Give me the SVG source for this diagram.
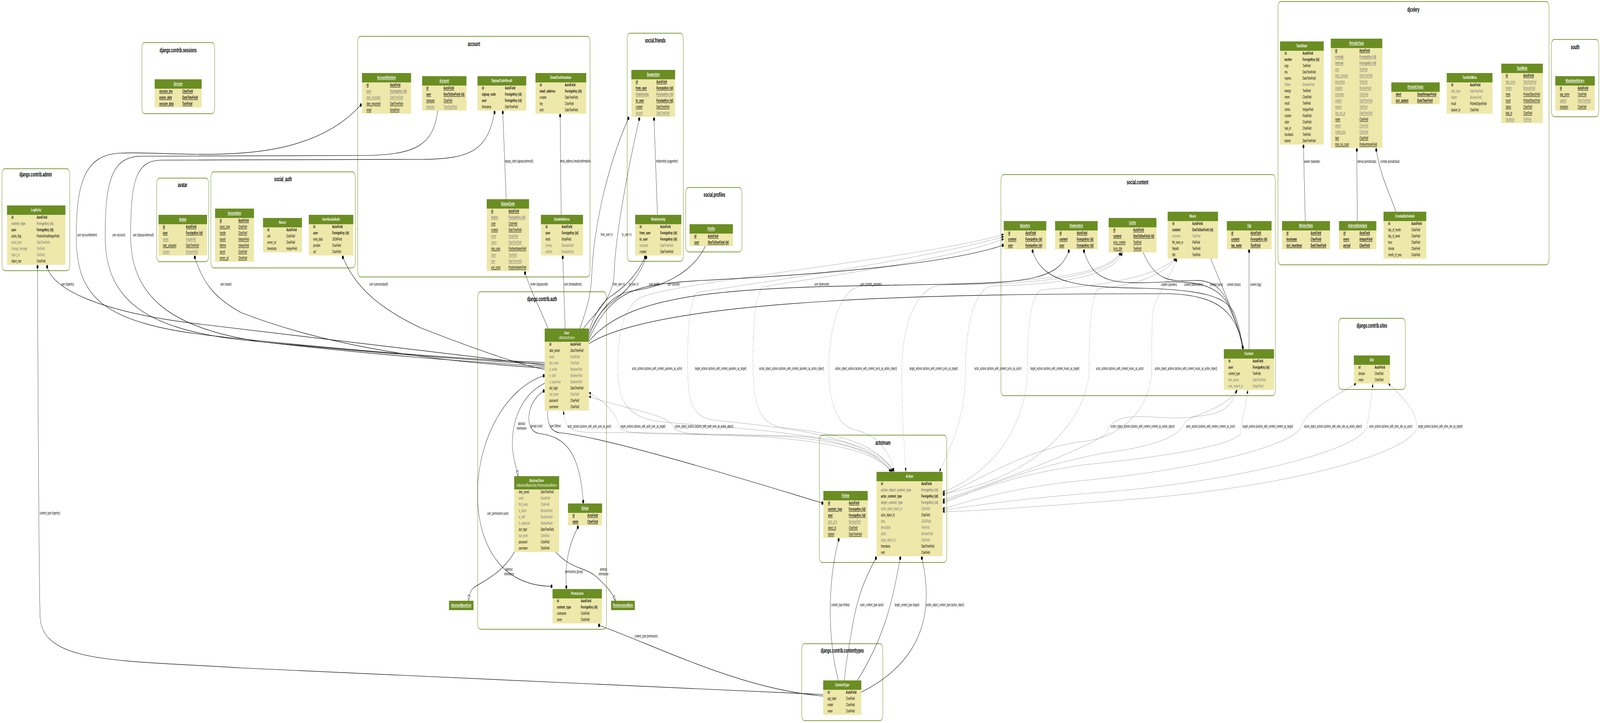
<svg xmlns="http://www.w3.org/2000/svg" width="7975" height="1851" viewBox="0 0 7975 1851" preserveAspectRatio="none">
<style>
svg{width:100%;height:100%}
text{font-family:"Liberation Sans",Arial,Helvetica,sans-serif;fill:#000}
.cl{fill:#fff;stroke:#7d9e3c;stroke-width:2}
.ct{font-size:16px;font-weight:bold;text-anchor:middle}
.hd{fill:#6b8e23}
.bd{fill:#eee8aa}
.ht{font-size:11px;font-weight:bold;fill:#fff;text-anchor:middle;letter-spacing:.4px}
.r{font-size:10px}
.b{font-weight:bold;letter-spacing:.7px}
.g{fill:#7b7b7b}
.i{font-style:italic}
.u{text-decoration:underline}
.e{fill:none;stroke:#000;stroke-width:1.2}
.d{stroke-dasharray:1.5 4}
.fk{marker-start:url(#dot)}
.m2m{marker-start:url(#dot);marker-end:url(#dot)}
.gen{marker-start:url(#arr);marker-end:url(#arr)}
.inh{marker-end:url(#emp)}
.lb{font-size:10px}
.lm{font-size:10px;text-anchor:middle}
</style>
<defs>
<marker id="dot" markerUnits="userSpaceOnUse" markerWidth="10" markerHeight="10" refX="5" refY="5" viewBox="0 0 10 10"><circle cx="5" cy="5" r="4.5"/></marker>
<marker id="arr" markerUnits="userSpaceOnUse" markerWidth="10" markerHeight="8" refX="10" refY="4" orient="auto-start-reverse" viewBox="0 0 10 8"><path d="M0,0L10,4L0,8z"/></marker>
<marker id="emp" markerUnits="userSpaceOnUse" markerWidth="16" markerHeight="12" refX="15" refY="6" orient="auto" viewBox="0 0 16 12"><path d="M1,1L15,6L1,11z" fill="#fff" stroke="#000" stroke-width="1.2"/></marker>
</defs>
<rect x="0" y="0" width="7975" height="1851" fill="#fff"/>

<g id="clusters">
<g id="c-admin"><rect class="cl" x="10" y="432" width="338" height="261" rx="14"/><text class="ct" x="178" y="452">django.contrib.admin</text></g>
<g id="c-sessions"><rect class="cl" x="707" y="109" width="363" height="182" rx="14"/><text class="ct" x="888" y="134">django.contrib.sessions</text></g>
<g id="c-avatar"><rect class="cl" x="781" y="456" width="259" height="214" rx="14"/><text class="ct" x="910" y="479">avatar</text></g>
<g id="c-social_auth"><rect class="cl" x="1051" y="440" width="720" height="246" rx="14"/><text class="ct" x="1411" y="464">social_auth</text></g>
<g id="c-account"><rect class="cl" x="1783" y="93" width="1158" height="616" rx="14"/><text class="ct" x="2362" y="118">account</text></g>
<g id="c-friends"><rect class="cl" x="3126" y="85" width="280" height="584" rx="14"/><text class="ct" x="3266" y="109">social.friends</text></g>
<g id="c-profiles"><rect class="cl" x="3418" y="480" width="280" height="165" rx="14"/><text class="ct" x="3561" y="504">social.profiles</text></g>
<g id="c-auth"><rect class="cl" x="2381" y="747" width="642" height="864" rx="14"/><text class="ct" x="2702" y="771">django.contrib.auth</text></g>
<g id="c-actstream"><rect class="cl" x="4084" y="1114" width="635" height="326" rx="14"/><text class="ct" x="4401" y="1139">actstream</text></g>
<g id="c-contenttypes"><rect class="cl" x="3996" y="1648" width="404" height="197" rx="14"/><text class="ct" x="4198" y="1671">django.contrib.contenttypes</text></g>
<g id="c-content"><rect class="cl" x="4989" y="447" width="1368" height="566" rx="14"/><text class="ct" x="5670" y="472">social.content</text></g>
<g id="c-sites"><rect class="cl" x="6672" y="815" width="333" height="182" rx="14"/><text class="ct" x="6838" y="839">django.contrib.sites</text></g>
<g id="c-djcelery"><rect class="cl" x="6370" y="4" width="1351" height="674" rx="14"/><text class="ct" x="7045" y="30">djcelery</text></g>
<g id="c-south"><rect class="cl" x="7733" y="101" width="236" height="198" rx="14"/><text class="ct" x="7851" y="126">south</text></g>
</g>

<g id="n-LogEntry"><rect class="hd" x="35" y="526" width="291" height="24"/><rect class="bd" x="35" y="550" width="291" height="128"/><text class="ht" x="180.5" y="541">LogEntry</text>
<text class="r b" y="560.5"><tspan x="57">id</tspan><tspan x="183">AutoField</tspan></text>
<text class="r b g" y="576.5"><tspan x="57">content_type</tspan><tspan x="183">ForeignKey (id)</tspan></text>
<text class="r b" y="592.5"><tspan x="57">user</tspan><tspan x="183">ForeignKey (id)</tspan></text>
<text class="r" y="608.5"><tspan x="57">action_flag</tspan><tspan x="183">PositiveSmallIntegerField</tspan></text>
<text class="r g" y="624.5"><tspan x="57">action_time</tspan><tspan x="183">DateTimeField</tspan></text>
<text class="r g" y="640.5"><tspan x="57">change_message</tspan><tspan x="183">TextField</tspan></text>
<text class="r g" y="656.5"><tspan x="57">object_id</tspan><tspan x="183">TextField</tspan></text>
<text class="r" y="672.5"><tspan x="57">object_repr</tspan><tspan x="183">CharField</tspan></text></g>

<g id="n-Session"><rect class="hd" x="771" y="203" width="234" height="24"/><rect class="bd" x="771" y="227" width="234" height="48"/><text class="ht i u" x="888" y="218">Session</text>
<text class="r b i u" y="237.5"><tspan x="794">session_key</tspan><tspan x="909">CharField</tspan></text>
<text class="r b i u" y="253.5"><tspan x="794">expire_date</tspan><tspan x="909">DateTimeField</tspan></text>
<text class="r b i u" y="269.5"><tspan x="794">session_data</tspan><tspan x="909">TextField</tspan></text></g>

<g id="n-Avatar"><rect class="hd" x="790" y="550" width="242" height="24"/><rect class="bd" x="790" y="574" width="242" height="80"/><text class="ht u" x="911" y="565">Avatar</text>
<text class="r b u" y="584.5"><tspan x="812">id</tspan><tspan x="927">AutoField</tspan></text>
<text class="r b u" y="600.5"><tspan x="812">user</tspan><tspan x="927">ForeignKey (id)</tspan></text>
<text class="r g u" y="616.5"><tspan x="812">avatar</tspan><tspan x="927">ImageField</tspan></text>
<text class="r u" y="632.5"><tspan x="812">date_uploaded</tspan><tspan x="927">DateTimeField</tspan></text>
<text class="r g u" y="648.5"><tspan x="812">primary</tspan><tspan x="927">BooleanField</tspan></text></g>

<g id="n-Association"><rect class="hd" x="1072" y="534" width="194" height="24"/><rect class="bd" x="1072" y="558" width="194" height="112"/><text class="ht u" x="1169" y="549">Association</text>
<text class="r b u" y="568.5"><tspan x="1095">id</tspan><tspan x="1188">AutoField</tspan></text>
<text class="r u" y="584.5"><tspan x="1095">assoc_type</tspan><tspan x="1188">CharField</tspan></text>
<text class="r u" y="600.5"><tspan x="1095">handle</tspan><tspan x="1188">CharField</tspan></text>
<text class="r u" y="616.5"><tspan x="1095">issued</tspan><tspan x="1188">IntegerField</tspan></text>
<text class="r u" y="632.5"><tspan x="1095">lifetime</tspan><tspan x="1188">IntegerField</tspan></text>
<text class="r u" y="648.5"><tspan x="1095">secret</tspan><tspan x="1188">CharField</tspan></text>
<text class="r u" y="664.5"><tspan x="1095">server_url</tspan><tspan x="1188">CharField</tspan></text></g>

<g id="n-Nonce"><rect class="hd" x="1311" y="558" width="194" height="24"/><rect class="bd" x="1311" y="582" width="194" height="64"/><text class="ht" x="1408" y="573">Nonce</text>
<text class="r b" y="592.5"><tspan x="1332">id</tspan><tspan x="1427">AutoField</tspan></text>
<text class="r" y="608.5"><tspan x="1332">salt</tspan><tspan x="1427">CharField</tspan></text>
<text class="r" y="624.5"><tspan x="1332">server_url</tspan><tspan x="1427">CharField</tspan></text>
<text class="r" y="640.5"><tspan x="1332">timestamp</tspan><tspan x="1427">IntegerField</tspan></text></g>

<g id="n-UserSocialAuth"><rect class="hd" x="1539" y="550" width="222" height="24"/><rect class="bd" x="1539" y="574" width="222" height="80"/><text class="ht" x="1650" y="565">UserSocialAuth</text>
<text class="r b" y="584.5"><tspan x="1561">id</tspan><tspan x="1656">AutoField</tspan></text>
<text class="r b" y="600.5"><tspan x="1561">user</tspan><tspan x="1656">ForeignKey (id)</tspan></text>
<text class="r" y="616.5"><tspan x="1561">extra_data</tspan><tspan x="1656">JSONField</tspan></text>
<text class="r" y="632.5"><tspan x="1561">provider</tspan><tspan x="1656">CharField</tspan></text>
<text class="r" y="648.5"><tspan x="1561">uid</tspan><tspan x="1656">CharField</tspan></text></g>

<g id="n-AccountDeletion"><rect class="hd" x="1804" y="187" width="245" height="24"/><rect class="bd" x="1804" y="211" width="245" height="80"/><text class="ht u" x="1926.5" y="202">AccountDeletion</text>
<text class="r b u" y="221.5"><tspan x="1827">id</tspan><tspan x="1944">AutoField</tspan></text>
<text class="r b g u" y="237.5"><tspan x="1827">user</tspan><tspan x="1944">ForeignKey (id)</tspan></text>
<text class="r g u" y="253.5"><tspan x="1827">date_expunged</tspan><tspan x="1944">DateTimeField</tspan></text>
<text class="r u" y="269.5"><tspan x="1827">date_requested</tspan><tspan x="1944">DateTimeField</tspan></text>
<text class="r u" y="285.5"><tspan x="1827">email</tspan><tspan x="1944">EmailField</tspan></text></g>

<g id="n-Account"><rect class="hd" x="2104" y="195" width="221" height="24"/><rect class="bd" x="2104" y="219" width="221" height="64"/><text class="ht u" x="2214.5" y="210">Account</text>
<text class="r b u" y="229.5"><tspan x="2125">id</tspan><tspan x="2211">AutoField</tspan></text>
<text class="r b u" y="245.5"><tspan x="2125">user</tspan><tspan x="2211">OneToOneField (id)</tspan></text>
<text class="r u" y="261.5"><tspan x="2125">language</tspan><tspan x="2211">CharField</tspan></text>
<text class="r g u" y="277.5"><tspan x="2125">timezone</tspan><tspan x="2211">TimeZoneField</tspan></text></g>

<g id="n-SignupCodeResult"><rect class="hd" x="2380" y="195" width="243" height="24"/><rect class="bd" x="2380" y="219" width="243" height="64"/><text class="ht" x="2501.5" y="210">SignupCodeResult</text>
<text class="r b" y="229.5"><tspan x="2402">id</tspan><tspan x="2517">AutoField</tspan></text>
<text class="r b" y="245.5"><tspan x="2402">signup_code</tspan><tspan x="2517">ForeignKey (id)</tspan></text>
<text class="r b" y="261.5"><tspan x="2402">user</tspan><tspan x="2517">ForeignKey (id)</tspan></text>
<text class="r" y="277.5"><tspan x="2402">timestamp</tspan><tspan x="2517">DateTimeField</tspan></text></g>

<g id="n-EmailConfirmation"><rect class="hd" x="2669" y="187" width="253" height="24"/><rect class="bd" x="2669" y="211" width="253" height="80"/><text class="ht" x="2795.5" y="202">EmailConfirmation</text>
<text class="r b" y="221.5"><tspan x="2690">id</tspan><tspan x="2816">AutoField</tspan></text>
<text class="r b" y="237.5"><tspan x="2690">email_address</tspan><tspan x="2816">ForeignKey (id)</tspan></text>
<text class="r" y="253.5"><tspan x="2690">created</tspan><tspan x="2816">DateTimeField</tspan></text>
<text class="r" y="269.5"><tspan x="2690">key</tspan><tspan x="2816">CharField</tspan></text>
<text class="r" y="285.5"><tspan x="2690">sent</tspan><tspan x="2816">DateTimeField</tspan></text></g>

<g id="n-SignupCode"><rect class="hd" x="2426" y="510" width="211" height="24"/><rect class="bd" x="2426" y="534" width="211" height="160"/><text class="ht u" x="2531.5" y="525">SignupCode</text>
<text class="r b u" y="544.5"><tspan x="2448">id</tspan><tspan x="2535">AutoField</tspan></text>
<text class="r b g u" y="560.5"><tspan x="2448">inviter</tspan><tspan x="2535">ForeignKey (id)</tspan></text>
<text class="r u" y="576.5"><tspan x="2448">code</tspan><tspan x="2535">CharField</tspan></text>
<text class="r u" y="592.5"><tspan x="2448">created</tspan><tspan x="2535">DateTimeField</tspan></text>
<text class="r g u" y="608.5"><tspan x="2448">email</tspan><tspan x="2535">EmailField</tspan></text>
<text class="r g u" y="624.5"><tspan x="2448">expiry</tspan><tspan x="2535">DateTimeField</tspan></text>
<text class="r u" y="640.5"><tspan x="2448">max_uses</tspan><tspan x="2535">PositiveIntegerField</tspan></text>
<text class="r g u" y="656.5"><tspan x="2448">notes</tspan><tspan x="2535">TextField</tspan></text>
<text class="r g u" y="672.5"><tspan x="2448">sent</tspan><tspan x="2535">DateTimeField</tspan></text>
<text class="r u" y="688.5"><tspan x="2448">use_count</tspan><tspan x="2535">PositiveIntegerField</tspan></text></g>

<g id="n-EmailAddress"><rect class="hd" x="2696" y="550" width="210" height="24"/><rect class="bd" x="2696" y="574" width="210" height="80"/><text class="ht" x="2801" y="565">EmailAddress</text>
<text class="r b" y="584.5"><tspan x="2719">id</tspan><tspan x="2800">AutoField</tspan></text>
<text class="r b" y="600.5"><tspan x="2719">user</tspan><tspan x="2800">ForeignKey (id)</tspan></text>
<text class="r" y="616.5"><tspan x="2719">email</tspan><tspan x="2800">EmailField</tspan></text>
<text class="r g" y="632.5"><tspan x="2719">primary</tspan><tspan x="2800">BooleanField</tspan></text>
<text class="r g" y="648.5"><tspan x="2719">verified</tspan><tspan x="2800">BooleanField</tspan></text></g>

<g id="n-Suggestion"><rect class="hd" x="3147" y="179" width="218" height="24"/><rect class="bd" x="3147" y="203" width="218" height="96"/><text class="ht u" x="3256" y="194">Suggestion</text>
<text class="r b u" y="213.5"><tspan x="3169">id</tspan><tspan x="3272">AutoField</tspan></text>
<text class="r b u" y="229.5"><tspan x="3169">from_user</tspan><tspan x="3272">ForeignKey (id)</tspan></text>
<text class="r b g u" y="245.5"><tspan x="3169">relationship</tspan><tspan x="3272">ForeignKey (id)</tspan></text>
<text class="r b u" y="261.5"><tspan x="3169">to_user</tspan><tspan x="3272">ForeignKey (id)</tspan></text>
<text class="r u" y="277.5"><tspan x="3169">created</tspan><tspan x="3272">DateTimeField</tspan></text>
<text class="r g u" y="293.5"><tspan x="3169">ignored</tspan><tspan x="3272">DateTimeField</tspan></text></g>

<g id="n-Relationship"><rect class="hd" x="3166" y="550" width="230" height="24"/><rect class="bd" x="3166" y="574" width="230" height="80"/><text class="ht" x="3281" y="565">Relationship</text>
<text class="r b" y="584.5"><tspan x="3188">id</tspan><tspan x="3291">AutoField</tspan></text>
<text class="r b" y="600.5"><tspan x="3188">from_user</tspan><tspan x="3291">ForeignKey (id)</tspan></text>
<text class="r b" y="616.5"><tspan x="3188">to_user</tspan><tspan x="3291">ForeignKey (id)</tspan></text>
<text class="r g" y="632.5"><tspan x="3188">accepted</tspan><tspan x="3291">DateTimeField</tspan></text>
<text class="r" y="648.5"><tspan x="3188">created</tspan><tspan x="3291">DateTimeField</tspan></text></g>

<g id="n-Profile"><rect class="hd" x="3437" y="574" width="216" height="24"/><rect class="bd" x="3437" y="598" width="216" height="32"/><text class="ht i u" x="3545" y="589">Profile</text>
<text class="r b i u" y="608.5"><tspan x="3461">id</tspan><tspan x="3528">AutoField</tspan></text>
<text class="r b i u" y="624.5"><tspan x="3461">user</tspan><tspan x="3528">OneToOneField (id)</tspan></text></g>

<g id="n-User"><rect class="hd" x="2715" y="841" width="220" height="34"/><rect class="bd" x="2715" y="875" width="220" height="176"/><text class="ht" x="2825" y="856">User</text><text class="ht i" x="2825" y="868" style="font-weight:normal">&lt;AbstractUser&gt;</text>
<text class="r b" y="885.5"><tspan x="2738">id</tspan><tspan x="2843">AutoField</tspan></text>
<text class="r i" y="901.5"><tspan x="2738">date_joined</tspan><tspan x="2843">DateTimeField</tspan></text>
<text class="r i g" y="917.5"><tspan x="2738">email</tspan><tspan x="2843">EmailField</tspan></text>
<text class="r i g" y="933.5"><tspan x="2738">first_name</tspan><tspan x="2843">CharField</tspan></text>
<text class="r i g" y="949.5"><tspan x="2738">is_active</tspan><tspan x="2843">BooleanField</tspan></text>
<text class="r i g" y="965.5"><tspan x="2738">is_staff</tspan><tspan x="2843">BooleanField</tspan></text>
<text class="r i g" y="981.5"><tspan x="2738">is_superuser</tspan><tspan x="2843">BooleanField</tspan></text>
<text class="r i" y="997.5"><tspan x="2738">last_login</tspan><tspan x="2843">DateTimeField</tspan></text>
<text class="r i g" y="1013.5"><tspan x="2738">last_name</tspan><tspan x="2843">CharField</tspan></text>
<text class="r i" y="1029.5"><tspan x="2738">password</tspan><tspan x="2843">CharField</tspan></text>
<text class="r i" y="1045.5"><tspan x="2738">username</tspan><tspan x="2843">CharField</tspan></text></g>

<g id="n-AbstractUser"><rect class="hd" x="2563" y="1219" width="224" height="34"/><rect class="bd" x="2563" y="1253" width="224" height="160"/><text class="ht" x="2675" y="1234">AbstractUser</text><text class="ht i" x="2675" y="1246" style="font-weight:normal">&lt;AbstractBaseUser,PermissionsMixin&gt;</text>
<text class="r" y="1263.5"><tspan x="2585">date_joined</tspan><tspan x="2695">DateTimeField</tspan></text>
<text class="r g" y="1279.5"><tspan x="2585">email</tspan><tspan x="2695">EmailField</tspan></text>
<text class="r g" y="1295.5"><tspan x="2585">first_name</tspan><tspan x="2695">CharField</tspan></text>
<text class="r g" y="1311.5"><tspan x="2585">is_active</tspan><tspan x="2695">BooleanField</tspan></text>
<text class="r g" y="1327.5"><tspan x="2585">is_staff</tspan><tspan x="2695">BooleanField</tspan></text>
<text class="r g i" y="1343.5"><tspan x="2585">is_superuser</tspan><tspan x="2695">BooleanField</tspan></text>
<text class="r i" y="1359.5"><tspan x="2585">last_login</tspan><tspan x="2695">DateTimeField</tspan></text>
<text class="r g" y="1375.5"><tspan x="2585">last_name</tspan><tspan x="2695">CharField</tspan></text>
<text class="r i" y="1391.5"><tspan x="2585">password</tspan><tspan x="2695">CharField</tspan></text>
<text class="r" y="1407.5"><tspan x="2585">username</tspan><tspan x="2695">CharField</tspan></text></g>

<g id="n-Group"><rect class="hd" x="2831" y="1289" width="170" height="24"/><rect class="bd" x="2831" y="1313" width="170" height="32"/><text class="ht i u" x="2916" y="1304">Group</text>
<text class="r b i u" y="1323.5"><tspan x="2854">id</tspan><tspan x="2928">AutoField</tspan></text>
<text class="r b i u" y="1339.5"><tspan x="2854">name</tspan><tspan x="2928">CharField</tspan></text></g>

<g id="n-Permission"><rect class="hd" x="2754" y="1508" width="246" height="24"/><rect class="bd" x="2754" y="1532" width="246" height="64"/><text class="ht" x="2877" y="1523">Permission</text>
<text class="r b" y="1542.5"><tspan x="2776">id</tspan><tspan x="2895">AutoField</tspan></text>
<text class="r b" y="1558.5"><tspan x="2776">content_type</tspan><tspan x="2895">ForeignKey (id)</tspan></text>
<text class="r" y="1574.5"><tspan x="2776">codename</tspan><tspan x="2895">CharField</tspan></text>
<text class="r" y="1590.5"><tspan x="2776">name</tspan><tspan x="2895">CharField</tspan></text></g>

<g id="n-AbstractBaseUser"><rect class="hd" x="2238" y="1538" width="122" height="24"/><text class="ht i u" x="2299" y="1553">AbstractBaseUser</text></g>
<g id="n-PermissionsMixin"><rect class="hd" x="3046" y="1538" width="118" height="24"/><text class="ht i u" x="3105" y="1553">PermissionsMixin</text></g>

<g id="n-Upvoters"><rect class="hd" x="5003" y="566" width="212" height="24"/><rect class="bd" x="5003" y="590" width="212" height="48"/><text class="ht i u" x="5109" y="581">Upvoters</text>
<text class="r b i u" y="600.5"><tspan x="5025">id</tspan><tspan x="5111">AutoField</tspan></text>
<text class="r b i u" y="616.5"><tspan x="5025">content</tspan><tspan x="5111">ForeignKey (id)</tspan></text>
<text class="r b i u" y="632.5"><tspan x="5025">user</tspan><tspan x="5111">ForeignKey (id)</tspan></text></g>

<g id="n-Downvoters"><rect class="hd" x="5259" y="566" width="212" height="24"/><rect class="bd" x="5259" y="590" width="212" height="48"/><text class="ht i u" x="5365" y="581">Downvoters</text>
<text class="r b i u" y="600.5"><tspan x="5281">id</tspan><tspan x="5367">AutoField</tspan></text>
<text class="r b i u" y="616.5"><tspan x="5281">content</tspan><tspan x="5367">ForeignKey (id)</tspan></text>
<text class="r b i u" y="632.5"><tspan x="5281">user</tspan><tspan x="5367">ForeignKey (id)</tspan></text></g>

<g id="n-Lyrics"><rect class="hd" x="5526" y="558" width="238" height="24"/><rect class="bd" x="5526" y="582" width="238" height="64"/><text class="ht u" x="5645" y="573">Lyrics</text>
<text class="r b u" y="592.5"><tspan x="5549">id</tspan><tspan x="5649">AutoField</tspan></text>
<text class="r b u" y="608.5"><tspan x="5549">content</tspan><tspan x="5649">OneToOneField (id)</tspan></text>
<text class="r u" y="624.5"><tspan x="5549">lyrics_content</tspan><tspan x="5649">TextField</tspan></text>
<text class="r u" y="640.5"><tspan x="5549">lyrics_title</tspan><tspan x="5649">TextField</tspan></text></g>

<g id="n-Music"><rect class="hd" x="5820" y="542" width="251" height="24"/><rect class="bd" x="5820" y="566" width="251" height="96"/><text class="ht" x="5945.5" y="557">Music</text>
<text class="r b" y="576.5"><tspan x="5843">id</tspan><tspan x="5943">AutoField</tspan></text>
<text class="r b" y="592.5"><tspan x="5843">content</tspan><tspan x="5943">OneToOneField (id)</tspan></text>
<text class="r g" y="608.5"><tspan x="5843">comment</tspan><tspan x="5943">TextField</tspan></text>
<text class="r" y="624.5"><tspan x="5843">file_store_to</tspan><tspan x="5943">FileField</tspan></text>
<text class="r" y="640.5"><tspan x="5843">filepath</tspan><tspan x="5943">TextField</tspan></text>
<text class="r" y="656.5"><tspan x="5843">title</tspan><tspan x="5943">TextField</tspan></text></g>

<g id="n-Tag"><rect class="hd" x="6115" y="566" width="223" height="24"/><rect class="bd" x="6115" y="590" width="223" height="48"/><text class="ht i u" x="6226.5" y="581">Tag</text>
<text class="r b i u" y="600.5"><tspan x="6137">id</tspan><tspan x="6233">AutoField</tspan></text>
<text class="r b i u" y="616.5"><tspan x="6137">content</tspan><tspan x="6233">ForeignKey (id)</tspan></text>
<text class="r b i u" y="632.5"><tspan x="6137">tag_name</tspan><tspan x="6233">TextField</tspan></text></g>

<g id="n-Content"><rect class="hd" x="6100" y="894" width="250" height="24"/><rect class="bd" x="6100" y="918" width="250" height="80"/><text class="ht" x="6225" y="909">Content</text>
<text class="r b" y="928.5"><tspan x="6123">id</tspan><tspan x="6244">AutoField</tspan></text>
<text class="r b" y="944.5"><tspan x="6123">user</tspan><tspan x="6244">ForeignKey (id)</tspan></text>
<text class="r" y="960.5"><tspan x="6123">content_type</tspan><tspan x="6244">TextField</tspan></text>
<text class="r g" y="976.5"><tspan x="6123">time_stamp</tspan><tspan x="6244">DateTimeField</tspan></text>
<text class="r g" y="992.5"><tspan x="6123">user_content_id</tspan><tspan x="6244">IntegerField</tspan></text></g>

<g id="n-Follow"><rect class="hd" x="4104" y="1257" width="221" height="24"/><rect class="bd" x="4104" y="1281" width="221" height="96"/><text class="ht u" x="4214.5" y="1272">Follow</text>
<text class="r b u" y="1291.5"><tspan x="4127">id</tspan><tspan x="4231">AutoField</tspan></text>
<text class="r b u" y="1307.5"><tspan x="4127">content_type</tspan><tspan x="4231">ForeignKey (id)</tspan></text>
<text class="r b u" y="1323.5"><tspan x="4127">user</tspan><tspan x="4231">ForeignKey (id)</tspan></text>
<text class="r g u" y="1339.5"><tspan x="4127">actor_only</tspan><tspan x="4231">BooleanField</tspan></text>
<text class="r u" y="1355.5"><tspan x="4127">object_id</tspan><tspan x="4231">CharField</tspan></text>
<text class="r u" y="1371.5"><tspan x="4127">started</tspan><tspan x="4231">DateTimeField</tspan></text></g>

<g id="n-Action"><rect class="hd" x="4369" y="1208" width="329" height="24"/><rect class="bd" x="4369" y="1232" width="329" height="192"/><text class="ht" x="4533.5" y="1223">Action</text>
<text class="r b" y="1242.5"><tspan x="4391">id</tspan><tspan x="4592">AutoField</tspan></text>
<text class="r b g" y="1258.5"><tspan x="4391">action_object_content_type</tspan><tspan x="4592">ForeignKey (id)</tspan></text>
<text class="r b" y="1274.5"><tspan x="4391">actor_content_type</tspan><tspan x="4592">ForeignKey (id)</tspan></text>
<text class="r b g" y="1290.5"><tspan x="4391">target_content_type</tspan><tspan x="4592">ForeignKey (id)</tspan></text>
<text class="r g" y="1306.5"><tspan x="4391">action_object_object_id</tspan><tspan x="4592">CharField</tspan></text>
<text class="r" y="1322.5"><tspan x="4391">actor_object_id</tspan><tspan x="4592">CharField</tspan></text>
<text class="r g" y="1338.5"><tspan x="4391">data</tspan><tspan x="4592">JSONField</tspan></text>
<text class="r g" y="1354.5"><tspan x="4391">description</tspan><tspan x="4592">TextField</tspan></text>
<text class="r g" y="1370.5"><tspan x="4391">public</tspan><tspan x="4592">BooleanField</tspan></text>
<text class="r g" y="1386.5"><tspan x="4391">target_object_id</tspan><tspan x="4592">CharField</tspan></text>
<text class="r" y="1402.5"><tspan x="4391">timestamp</tspan><tspan x="4592">DateTimeField</tspan></text>
<text class="r" y="1418.5"><tspan x="4391">verb</tspan><tspan x="4592">CharField</tspan></text></g>

<g id="n-ContentType"><rect class="hd" x="4103" y="1742" width="190" height="24"/><rect class="bd" x="4103" y="1766" width="190" height="64"/><text class="ht" x="4198" y="1757">ContentType</text>
<text class="r b" y="1776.5"><tspan x="4125">id</tspan><tspan x="4217">AutoField</tspan></text>
<text class="r" y="1792.5"><tspan x="4125">app_label</tspan><tspan x="4217">CharField</tspan></text>
<text class="r" y="1808.5"><tspan x="4125">model</tspan><tspan x="4217">CharField</tspan></text>
<text class="r" y="1824.5"><tspan x="4125">name</tspan><tspan x="4217">CharField</tspan></text></g>

<g id="n-Site"><rect class="hd" x="6748" y="910" width="180" height="24"/><rect class="bd" x="6748" y="934" width="180" height="48"/><text class="ht" x="6838" y="925">Site</text>
<text class="r b" y="944.5"><tspan x="6771">id</tspan><tspan x="6852">AutoField</tspan></text>
<text class="r" y="960.5"><tspan x="6771">domain</tspan><tspan x="6852">CharField</tspan></text>
<text class="r" y="976.5"><tspan x="6771">name</tspan><tspan x="6852">CharField</tspan></text></g>

<g id="n-TaskState"><rect class="hd" x="6380" y="106" width="218" height="24"/><rect class="bd" x="6380" y="130" width="218" height="240"/><text class="ht" x="6489" y="121">TaskState</text>
<text class="r b" y="140.5"><tspan x="6403">id</tspan><tspan x="6493">AutoField</tspan></text>
<text class="r b" y="156.5"><tspan x="6403">worker</tspan><tspan x="6493">ForeignKey (id)</tspan></text>
<text class="r" y="172.5"><tspan x="6403">args</tspan><tspan x="6493">TextField</tspan></text>
<text class="r" y="188.5"><tspan x="6403">eta</tspan><tspan x="6493">DateTimeField</tspan></text>
<text class="r" y="204.5"><tspan x="6403">expires</tspan><tspan x="6493">DateTimeField</tspan></text>
<text class="r g" y="220.5"><tspan x="6403">hidden</tspan><tspan x="6493">BooleanField</tspan></text>
<text class="r" y="236.5"><tspan x="6403">kwargs</tspan><tspan x="6493">TextField</tspan></text>
<text class="r" y="252.5"><tspan x="6403">name</tspan><tspan x="6493">CharField</tspan></text>
<text class="r" y="268.5"><tspan x="6403">result</tspan><tspan x="6493">TextField</tspan></text>
<text class="r" y="284.5"><tspan x="6403">retries</tspan><tspan x="6493">IntegerField</tspan></text>
<text class="r" y="300.5"><tspan x="6403">runtime</tspan><tspan x="6493">FloatField</tspan></text>
<text class="r" y="316.5"><tspan x="6403">state</tspan><tspan x="6493">CharField</tspan></text>
<text class="r" y="332.5"><tspan x="6403">task_id</tspan><tspan x="6493">CharField</tspan></text>
<text class="r" y="348.5"><tspan x="6403">traceback</tspan><tspan x="6493">TextField</tspan></text>
<text class="r" y="364.5"><tspan x="6403">tstamp</tspan><tspan x="6493">DateTimeField</tspan></text></g>

<g id="n-PeriodicTask"><rect class="hd" x="6633" y="99" width="257" height="24"/><rect class="bd" x="6633" y="123" width="257" height="256"/><text class="ht u" x="6761.5" y="114">PeriodicTask</text>
<text class="r b u" y="133.5"><tspan x="6655">id</tspan><tspan x="6776">AutoField</tspan></text>
<text class="r b g u" y="149.5"><tspan x="6655">crontab</tspan><tspan x="6776">ForeignKey (id)</tspan></text>
<text class="r b g u" y="165.5"><tspan x="6655">interval</tspan><tspan x="6776">ForeignKey (id)</tspan></text>
<text class="r g u" y="181.5"><tspan x="6655">args</tspan><tspan x="6776">TextField</tspan></text>
<text class="r g u" y="197.5"><tspan x="6655">date_changed</tspan><tspan x="6776">DateTimeField</tspan></text>
<text class="r g u" y="213.5"><tspan x="6655">description</tspan><tspan x="6776">TextField</tspan></text>
<text class="r g u" y="229.5"><tspan x="6655">enabled</tspan><tspan x="6776">BooleanField</tspan></text>
<text class="r g u" y="245.5"><tspan x="6655">exchange</tspan><tspan x="6776">CharField</tspan></text>
<text class="r g u" y="261.5"><tspan x="6655">expires</tspan><tspan x="6776">DateTimeField</tspan></text>
<text class="r g u" y="277.5"><tspan x="6655">kwargs</tspan><tspan x="6776">TextField</tspan></text>
<text class="r g u" y="293.5"><tspan x="6655">last_run_at</tspan><tspan x="6776">DateTimeField</tspan></text>
<text class="r u" y="309.5"><tspan x="6655">name</tspan><tspan x="6776">CharField</tspan></text>
<text class="r g u" y="325.5"><tspan x="6655">queue</tspan><tspan x="6776">CharField</tspan></text>
<text class="r g u" y="341.5"><tspan x="6655">routing_key</tspan><tspan x="6776">CharField</tspan></text>
<text class="r u" y="357.5"><tspan x="6655">task</tspan><tspan x="6776">CharField</tspan></text>
<text class="r u" y="373.5"><tspan x="6655">total_run_count</tspan><tspan x="6776">PositiveIntegerField</tspan></text></g>

<g id="n-PeriodicTasks"><rect class="hd" x="6935" y="211" width="241" height="24"/><rect class="bd" x="6935" y="235" width="241" height="32"/><text class="ht i u" x="7055.5" y="226">PeriodicTasks</text>
<text class="r b i u" y="245.5"><tspan x="6957">ident</tspan><tspan x="7064">SmallIntegerField</tspan></text>
<text class="r b i u" y="261.5"><tspan x="6957">last_update</tspan><tspan x="7064">DateTimeField</tspan></text></g>

<g id="n-TaskSetMeta"><rect class="hd" x="7211" y="187" width="228" height="24"/><rect class="bd" x="7211" y="211" width="228" height="80"/><text class="ht" x="7325" y="202">TaskSetMeta</text>
<text class="r b" y="221.5"><tspan x="7233">id</tspan><tspan x="7327">AutoField</tspan></text>
<text class="r g" y="237.5"><tspan x="7233">date_done</tspan><tspan x="7327">DateTimeField</tspan></text>
<text class="r g" y="253.5"><tspan x="7233">hidden</tspan><tspan x="7327">BooleanField</tspan></text>
<text class="r" y="269.5"><tspan x="7233">result</tspan><tspan x="7327">PickledObjectField</tspan></text>
<text class="r" y="285.5"><tspan x="7233">taskset_id</tspan><tspan x="7327">CharField</tspan></text></g>

<g id="n-TaskMeta"><rect class="hd" x="7483" y="163" width="207" height="24"/><rect class="bd" x="7483" y="187" width="207" height="128"/><text class="ht u" x="7586.5" y="178">TaskMeta</text>
<text class="r b u" y="197.5"><tspan x="7505">id</tspan><tspan x="7593">AutoField</tspan></text>
<text class="r g u" y="213.5"><tspan x="7505">date_done</tspan><tspan x="7593">DateTimeField</tspan></text>
<text class="r g u" y="229.5"><tspan x="7505">hidden</tspan><tspan x="7593">BooleanField</tspan></text>
<text class="r u" y="245.5"><tspan x="7505">meta</tspan><tspan x="7593">PickledObjectField</tspan></text>
<text class="r u" y="261.5"><tspan x="7505">result</tspan><tspan x="7593">PickledObjectField</tspan></text>
<text class="r u" y="277.5"><tspan x="7505">status</tspan><tspan x="7593">CharField</tspan></text>
<text class="r u" y="293.5"><tspan x="7505">task_id</tspan><tspan x="7593">CharField</tspan></text>
<text class="r g u" y="309.5"><tspan x="7505">traceback</tspan><tspan x="7593">TextField</tspan></text></g>

<g id="n-MigrationHistory"><rect class="hd" x="7752" y="195" width="197" height="24"/><rect class="bd" x="7752" y="219" width="197" height="64"/><text class="ht u" x="7850.5" y="210">MigrationHistory</text>
<text class="r b u" y="229.5"><tspan x="7775">id</tspan><tspan x="7864">AutoField</tspan></text>
<text class="r u" y="245.5"><tspan x="7775">app_name</tspan><tspan x="7864">CharField</tspan></text>
<text class="r g u" y="261.5"><tspan x="7775">applied</tspan><tspan x="7864">DateTimeField</tspan></text>
<text class="r u" y="277.5"><tspan x="7775">migration</tspan><tspan x="7864">CharField</tspan></text></g>

<g id="n-WorkerState"><rect class="hd" x="6390" y="566" width="239" height="24"/><rect class="bd" x="6390" y="590" width="239" height="48"/><text class="ht i u" x="6509.5" y="581">WorkerState</text>
<text class="r b i u" y="600.5"><tspan x="6412">id</tspan><tspan x="6533">AutoField</tspan></text>
<text class="r b i u" y="616.5"><tspan x="6412">hostname</tspan><tspan x="6533">CharField</tspan></text>
<text class="r b i u" y="632.5"><tspan x="6412">last_heartbeat</tspan><tspan x="6533">DateTimeField</tspan></text></g>

<g id="n-IntervalSchedule"><rect class="hd" x="6674" y="566" width="186" height="24"/><rect class="bd" x="6674" y="590" width="186" height="48"/><text class="ht i u" x="6767" y="581">IntervalSchedule</text>
<text class="r b i u" y="600.5"><tspan x="6696">id</tspan><tspan x="6776">AutoField</tspan></text>
<text class="r b i u" y="616.5"><tspan x="6696">every</tspan><tspan x="6776">IntegerField</tspan></text>
<text class="r b i u" y="632.5"><tspan x="6696">period</tspan><tspan x="6776">CharField</tspan></text></g>

<g id="n-CrontabSchedule"><rect class="hd" x="6896" y="542" width="213" height="24"/><rect class="bd" x="6896" y="566" width="213" height="96"/><text class="ht" x="7002.5" y="557">CrontabSchedule</text>
<text class="r b" y="576.5"><tspan x="6919">id</tspan><tspan x="7035">AutoField</tspan></text>
<text class="r" y="592.5"><tspan x="6919">day_of_month</tspan><tspan x="7035">CharField</tspan></text>
<text class="r" y="608.5"><tspan x="6919">day_of_week</tspan><tspan x="7035">CharField</tspan></text>
<text class="r" y="624.5"><tspan x="6919">hour</tspan><tspan x="7035">CharField</tspan></text>
<text class="r" y="640.5"><tspan x="6919">minute</tspan><tspan x="7035">CharField</tspan></text>
<text class="r" y="656.5"><tspan x="6919">month_of_year</tspan><tspan x="7035">CharField</tspan></text></g>

<g id="connectors">
<path class="e fk" d="M187,683 C190,1100 195,1500 200,1580 C210,1700 600,1690 1200,1710 C2600,1750 3600,1772 4103,1778"/>
<path class="e fk" d="M235,683 C260,740 500,800 1000,830 C1700,870 2300,915 2715,935"/>
<path class="e fk" d="M1798,269 C1500,440 900,385 600,392 C420,396 382,470 380,602 C380,760 500,830 1100,862 C1700,895 2300,920 2715,928"/>
<path class="e" d="M2182,283 C2160,370 2080,398 1800,398 L700,400 C560,402 525,460 524,602 C523,760 700,840 1200,870 C1800,900 2300,922 2715,932"/>
<path class="e fk" d="M2465,288 C2430,380 2360,408 2100,408 L800,410 C680,412 652,460 651,602 C650,760 850,840 1300,875 C1900,910 2300,925 2715,938"/>
<path class="e fk" d="M971,659 C1010,720 1060,760 1200,800 C1700,900 2300,930 2715,942"/>
<path class="e fk" d="M1709,659 C1760,720 1850,780 2100,840 C2400,900 2600,935 2715,946"/>
<path class="e fk" d="M2617,699 C2650,750 2700,800 2732,841"/>
<path class="e fk" d="M2805,659 L2817,841"/>
<path class="e fk" d="M3132,303 C3000,460 2955,620 2950,700 C2945,770 2910,810 2890,841"/>
<path class="e fk" d="M3186,305 C3110,480 3065,620 3060,710 C3050,770 2950,810 2908,841"/>
<path class="e fk" d="M3260,305 L3277,550"/>
<path class="e fk" d="M3215,659 C3170,710 3100,740 3040,760 C2990,780 2960,810 2935,848"/>
<path class="e fk" d="M3221,659 C3180,715 3120,745 3060,770 C3000,790 2965,820 2935,855"/>
<path class="e" d="M3516,630 C3450,700 3300,735 3150,745 C3050,752 2980,800 2935,862"/>
<path class="e fk" d="M4998,628 C4700,680 4000,705 3500,718 C3150,728 3050,745 2935,868"/>
<path class="e fk" d="M5327,643 C5280,710 5150,725 4700,728 C3700,735 3150,740 2935,874"/>
<path class="e fk" d="M6194,889 C6160,790 6050,752 5800,752 C4800,752 3300,760 2935,880"/>
<path class="e fk" d="M2506,288 L2523,510"/>
<path class="e fk" d="M2792,296 L2797,550"/>
<path class="e fk" d="M4099,1288 C3700,1225 3000,1117 2790,1108 C2740,1105 2728,1080 2728,1051"/>
<path class="e fk" d="M4180,1382 C4130,1480 4120,1620 4178,1742"/>
<path class="e fk" d="M4366,1429 C4300,1490 4270,1540 4250,1600 C4230,1660 4215,1700 4209,1742"/>
<path class="e fk" d="M4487,1429 C4450,1530 4420,1620 4274,1742"/>
<path class="e fk" d="M4595,1429 C4640,1530 4650,1680 4293,1772"/>
<path class="e fk" d="M2986,1601 C3300,1660 3700,1765 4103,1782"/>
<path class="e fk" d="M6497,375 L6506,566"/>
<path class="e fk" d="M6763,384 L6765,566"/>
<path class="e fk" d="M6860,384 C6880,450 6930,500 6958,542"/>
<path class="e fk" d="M5147,643 C5200,730 5400,735 5700,738 C6000,742 6110,760 6150,800 C6175,830 6188,860 6192,894"/>
<path class="e fk" d="M5403,643 C5450,725 5550,728 5800,722 C5980,718 6060,735 6110,770 C6160,820 6185,860 6194,894"/>
<path class="e" d="M5698,646 C5760,725 5850,720 5950,718 C6050,716 6100,740 6140,800 C6170,840 6190,870 6196,894"/>
<path class="e" d="M6035,662 C6110,760 6170,820 6200,894"/>
<path class="e fk" d="M6226,643 L6226,894"/>
<path class="e m2m" d="M2880,1350 C2830,1400 2815,1450 2823,1503"/>
<path class="e m2m" d="M2710,1001 C2620,1030 2610,1105 2690,1110 C2820,1118 2890,1160 2907,1284"/>
<path class="e m2m" d="M2710,962 C2520,995 2390,1120 2380,1250 C2372,1380 2480,1500 2749,1501"/>
<path class="e inh" d="M2715,981 C2600,1010 2545,1080 2555,1150 C2560,1180 2575,1200 2583,1219"/>
<path class="e inh" d="M2565,1413 C2500,1470 2400,1490 2360,1505 C2345,1512 2338,1525 2335,1538"/>
<path class="e inh" d="M2770,1413 C2850,1460 2920,1450 2980,1480 C3020,1500 3050,1515 3068,1538"/>
<path class="e d gen" d="M2809,1051 C2812,1090 2830,1106 2950,1107 C3600,1110 4300,1110 4446,1208"/>
<path class="e d gen" d="M2935,1005 C3020,1030 3075,1060 3085,1092 C3095,1110 3200,1112 3600,1112 C4100,1112 4400,1150 4452,1208"/>
<path class="e d gen" d="M2935,1015 C3100,1045 3330,1060 3355,1092 C3380,1115 3500,1116 3900,1116 C4250,1116 4420,1165 4458,1208"/>
<path class="e d gen" d="M5003,600 C4600,660 3400,720 3200,760 C3100,785 3080,860 3080,944 C3080,1030 3130,1070 3300,1080 C3700,1100 4300,1105 4440,1208"/>
<path class="e d gen" d="M5003,606 C4600,665 3700,730 3480,748 C3440,760 3425,850 3427,944 C3430,1030 3450,1065 3550,1075 C3900,1095 4300,1110 4446,1208"/>
<path class="e d gen" d="M5003,612 C4700,670 4000,715 3800,735 C3760,760 3752,850 3753,944 C3755,1040 3790,1085 3900,1095 C4200,1110 4380,1140 4452,1208"/>
<path class="e d gen" d="M5585,646 C5500,720 5000,725 4300,732 C4180,735 4131,850 4131,944 C4131,1040 4180,1090 4260,1100 C4380,1115 4440,1160 4456,1208"/>
<path class="e d gen" d="M5590,646 C5520,722 5000,728 4700,730 C4550,732 4496,850 4495,944 C4494,1050 4505,1120 4515,1208"/>
<path class="e d gen" d="M5595,646 C5540,725 5100,730 4950,732 C4850,735 4812,850 4812,944 C4812,1060 4760,1120 4682,1208"/>
<path class="e d gen" d="M5860,662 C5700,730 5300,736 5190,742 C5130,760 5121,860 5121,944 C5121,1060 5000,1200 4698,1260"/>
<path class="e d gen" d="M5864,662 C5750,730 5520,735 5470,740 C5435,770 5428,860 5428,944 C5428,1060 5200,1220 4698,1264"/>
<path class="e d gen" d="M5868,662 C5820,720 5760,760 5745,800 C5740,860 5741,900 5741,944 C5741,1040 5600,1120 5400,1130 C5100,1150 4850,1240 4698,1268"/>
<path class="e d gen" d="M6163,998 C6130,1060 6050,1060 5935,1068 C5800,1075 5700,1060 5600,1070 C5540,1080 5523,1092 5515,1110 C5450,1140 5000,1230 4698,1280"/>
<path class="e d gen" d="M6168,998 C6100,1050 5950,1060 5905,1080 C5890,1110 5800,1140 5500,1160 C5100,1200 4850,1260 4698,1284"/>
<path class="e d gen" d="M6220,998 C6200,1060 6185,1090 6183,1110 C6150,1140 5800,1170 5400,1190 C5000,1220 4800,1270 4698,1288"/>
<path class="e d gen" d="M6760,982 C6600,1030 6500,1060 6486,1092 C6450,1140 6000,1200 5400,1230 C5000,1250 4800,1290 4698,1302"/>
<path class="e d gen" d="M6843,982 C6830,1040 6820,1070 6814,1092 C6790,1150 6200,1230 5500,1260 C5000,1280 4800,1300 4698,1306"/>
<path class="e d gen" d="M6920,982 C7020,1030 7062,1060 7062,1092 C7050,1160 6400,1250 5600,1280 C5100,1300 4800,1310 4698,1310"/>

<text class="lb" x="305" y="731.5">user (logentry)</text>
<text class="lb" x="385" y="605.5">user (accountdeletion)</text>
<text class="lb" x="560" y="605.5">user (account)</text>
<text class="lb" x="662" y="605.5">user (signupcoderesult)</text>
<text class="lb" x="1098" y="731.5">user (avatar)</text>
<text class="lb" x="1841" y="731.5">user (usersocialauth)</text>
<text class="lb" x="198" y="1317.5">content_type (logentry)</text>
<text class="lb" x="2516" y="416.5">signup_code (signupcoderesult)</text>
<text class="lb" x="2791" y="416.5">email_address (emailconfirmation)</text>
<text class="lb" x="3270" y="416.5">relationship (suggestion)</text>
<text class="lb" x="2994" y="604.5">from_user (+)</text>
<text class="lb" x="3100" y="604.5">to_user (+)</text>
<text class="lb" x="2644" y="731.5">inviter (signupcode)</text>
<text class="lb" x="2812" y="731.5">user (emailaddress)</text>
<text class="lb" x="3055" y="731.5">from_user (+)</text>
<text class="lb" x="3135" y="731.5">to_user (+)</text>
<text class="lb" x="3235" y="731.5">user (profile)</text>
<text class="lb" x="3327" y="731.5">user (upvoter)</text>
<text class="lb" x="4059" y="731.5">user (downvoter)</text>
<text class="lb" x="4288" y="731.5">user (content_uploader)</text>
<text class="lb" x="5786" y="732.5">content (upvoters)</text>
<text class="lb" x="5902" y="732.5">content (downvoters)</text>
<text class="lb" x="6031" y="732.5">content (lyrics)</text>
<text class="lb" x="6116" y="732.5">content (music)</text>
<text class="lb" x="6230" y="732.5">content (tag)</text>
<text class="lb" x="3150" y="947.5">actor_actions (actions_with_content_upvoters_as_actor)</text>
<text class="lb" x="3464" y="947.5">target_actions (actions_with_content_upvoters_as_target)</text>
<text class="lb" x="3784" y="947.5">action_object_actions (actions_with_content_upvoters_as_action_object)</text>
<text class="lb" x="4163" y="947.5">action_object_actions (actions_with_content_lyrics_as_action_object)</text>
<text class="lb" x="4533" y="947.5">target_actions (actions_with_content_lyrics_as_target)</text>
<text class="lb" x="4857" y="947.5">actor_actions (actions_with_content_lyrics_as_actor)</text>
<text class="lb" x="5136" y="947.5">target_actions (actions_with_content_music_as_target)</text>
<text class="lb" x="5463" y="947.5">actor_actions (actions_with_content_music_as_actor)</text>
<text class="lb" x="5756" y="947.5">action_object_actions (actions_with_content_music_as_action_object)</text>
<text class="lb" x="2829" y="1095">actor_actions (actions_with_auth_user_as_actor)</text>
<text class="lb" x="3093" y="1095.5">target_actions (actions_with_auth_user_as_target)</text>
<text class="lb" x="3364" y="1095.5">action_object_actions (actions_with_auth_user_as_action_object)</text>
<text class="lb" x="5537" y="1095.5">action_object_actions (actions_with_content_content_as_action_object)</text>
<text class="lb" x="5912" y="1095.5">actor_actions (actions_with_content_content_as_actor)</text>
<text class="lb" x="6194" y="1095.5">target_actions (actions_with_content_content_as_target)</text>
<text class="lb" x="6500" y="1095.5">action_object_actions (actions_with_sites_site_as_action_object)</text>
<text class="lb" x="6825" y="1095.5">actor_actions (actions_with_sites_site_as_actor)</text>
<text class="lb" x="7068" y="1095.5">target_actions (actions_with_sites_site_as_target)</text>
<text class="lm" x="2600" y="1088.5">abstract</text><text class="lm" x="2600" y="1100.5">inheritance</text>
<text class="lm" x="2537" y="1461.5">abstract</text><text class="lm" x="2537" y="1473.5">inheritance</text>
<text class="lm" x="3008" y="1461.5">abstract</text><text class="lm" x="3008" y="1473.5">inheritance</text>
<text class="lb" x="2645" y="1094.5">groups (user)</text>
<text class="lb" x="2741" y="1094.5">user (follow)</text>
<text class="lb" x="2428" y="1318.5">user_permissions (user)</text>
<text class="lb" x="2817" y="1467.5">permissions (group)</text>
<text class="lb" x="3163" y="1632.5">content_type (permission)</text>
<text class="lb" x="4143" y="1552.5">content_type (follow)</text>
<text class="lb" x="4288" y="1552.5">actor_content_type (actor)</text>
<text class="lb" x="4459" y="1552.5">target_content_type (target)</text>
<text class="lb" x="4616" y="1552.5">action_object_content_type (action_object)</text>
<text class="lb" x="6500" y="417.5">worker (taskstate)</text>
<text class="lb" x="6765" y="417.5">interval (periodictask)</text>
<text class="lb" x="6880" y="417.5">crontab (periodictask)</text>
</g>
</svg>
